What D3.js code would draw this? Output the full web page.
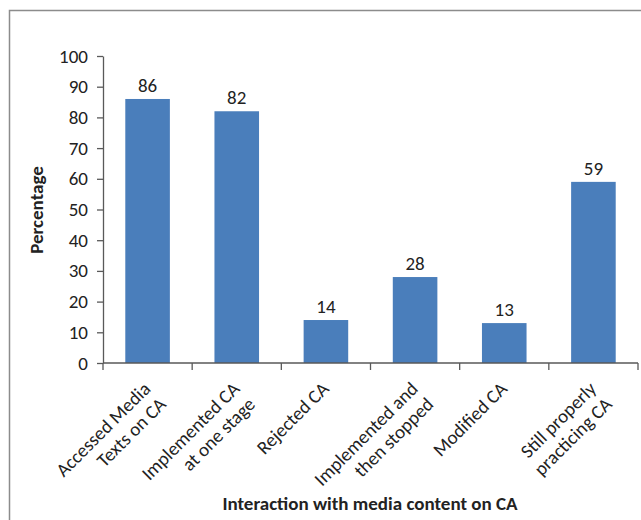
<!DOCTYPE html>
<html>
<head>
<meta charset="utf-8">
<script src="https://cdn.jsdelivr.net/npm/d3@7/dist/d3.min.js"></script>
<style>
  html, body { margin: 0; padding: 0; background: #fff; }
  svg { display: block; font-family: Carlito, Calibri, Lato, sans-serif; }
</style>
</head>
<body>
<svg id="chart" width="641" height="520"></svg>
<script>
// Survey results: interaction with media content on CA (percent of respondents)
const categories = [
  ["Accessed Media", "Texts on CA"],
  ["Implemented CA", "at one stage"],
  ["Rejected CA"],
  ["Implemented and", "then stopped"],
  ["Modified CA"],
  ["Still properly", "practicing CA"]
];
const values = [86, 82, 14, 28, 13, 59];
const yTicks = [0, 10, 20, 30, 40, 50, 60, 70, 80, 90, 100];
const yTitle = "Percentage";
const xTitle = "Interaction with media content on CA";

const svg = d3.select("#chart");
const axisColor = "#595959";
const textColor = "#222";
const barColor = "#4a7ebb";
const fontSize = 19;

// outer chart-area frame
svg.append("rect")
  .attr("x", 9.5).attr("y", 10.5)
  .attr("width", 700).attr("height", 600)
  .attr("fill", "none").attr("stroke", "#8c8c8c").attr("stroke-width", 1.5);

const plot = { left: 103, right: 638, top: 56, bottom: 363 };

const x = d3.scaleBand()
  .domain(d3.range(categories.length))
  .range([plot.left, plot.right])
  .paddingInner(0.5)
  .paddingOuter(0.25);

const y = d3.scaleLinear()
  .domain([0, 100])
  .range([plot.bottom, plot.top]);

// bars
svg.append("g").selectAll("rect")
  .data(values)
  .join("rect")
  .attr("x", (d, i) => x(i))
  .attr("y", d => y(d))
  .attr("width", x.bandwidth())
  .attr("height", d => y(0) - y(d))
  .attr("fill", barColor);

// value labels
svg.append("g").selectAll("text")
  .data(values)
  .join("text")
  .attr("x", (d, i) => x(i) + x.bandwidth() / 2)
  .attr("y", d => y(d) - 7)
  .attr("text-anchor", "middle")
  .attr("font-size", fontSize)
  .attr("fill", textColor)
  .text(d => d);

// y axis
const yAxis = svg.append("g")
  .attr("transform", `translate(${plot.left},0)`)
  .call(d3.axisLeft(y).tickValues(yTicks).tickSize(6).tickPadding(9).tickSizeOuter(0));
yAxis.select(".domain").attr("stroke", axisColor).attr("stroke-width", 1.3);
yAxis.selectAll(".tick line").attr("stroke", axisColor).attr("stroke-width", 1.3);
yAxis.selectAll(".tick text")
  .attr("font-size", fontSize).attr("fill", textColor)
  .style("font-family", "Carlito, Calibri, Lato, sans-serif");

// x axis: category boundary ticks
const step = x.step();
const boundaries = d3.range(categories.length + 1).map(i => x(0) - x.paddingInner() * step / 2 + i * step);
svg.append("line")
  .attr("x1", plot.left).attr("x2", plot.right)
  .attr("y1", plot.bottom).attr("y2", plot.bottom)
  .attr("stroke", axisColor).attr("stroke-width", 1.5);
svg.append("g").selectAll("line")
  .data(boundaries)
  .join("line")
  .attr("x1", d => d).attr("x2", d => d)
  .attr("y1", plot.bottom).attr("y2", plot.bottom + 7)
  .attr("stroke", axisColor).attr("stroke-width", 1.3);

// rotated category labels, right-aligned lines
const labelG = svg.append("g").selectAll("g")
  .data(categories)
  .join("g")
  .attr("transform", (d, i) => `translate(${x(i) + x.bandwidth() / 2 + 4},390) rotate(-45)`);
labelG.each(function(lines) {
  const g = d3.select(this);
  lines.forEach((line, j) => {
    g.append("text")
      .attr("x", 0)
      .attr("y", j * 22)
      .attr("text-anchor", "end")
      .attr("font-size", fontSize)
      .attr("fill", textColor)
      .text(line);
  });
});

// axis titles
svg.append("text")
  .attr("transform", `translate(43,210) rotate(-90)`)
  .attr("text-anchor", "middle")
  .attr("font-size", fontSize)
  .attr("font-weight", "bold")
  .attr("fill", textColor)
  .text(yTitle);

svg.append("text")
  .attr("x", 370).attr("y", 510)
  .attr("text-anchor", "middle")
  .attr("font-size", fontSize)
  .attr("font-weight", "bold")
  .attr("fill", textColor)
  .text(xTitle);
</script>
</body>
</html>
